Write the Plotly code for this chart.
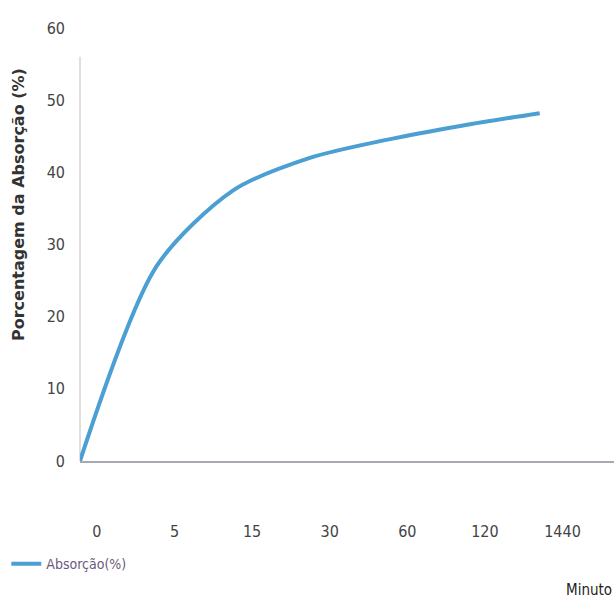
import plotly.graph_objects as go

# Absorption over time (minutes)
minutes = ["0", "5", "15", "30", "60", "120", "1440"]
absorcao = [0, 27, 37.5, 42, 44.5, 46.5, 48.2]
y_ticks = [0, 10, 20, 30, 40, 50, 60]

positions = list(range(len(minutes)))
label_positions = [p * 1.013 + 0.22 for p in positions]

narrow = "DejaVu Sans Condensed, Liberation Sans Narrow, sans-serif"
tick_font = dict(family=narrow, size=16, color="#444")

fig = go.Figure()
fig.add_trace(go.Scatter(
    x=positions, y=absorcao, mode="lines", name="Absorção(%)",
    line=dict(color="#4b9fd2", width=4, shape="spline", smoothing=0.8),
))

fig.update_layout(
    width=614, height=602,
    margin=dict(l=80, r=0, t=28, b=141),
    plot_bgcolor="white", paper_bgcolor="white",
    showlegend=True,
    legend=dict(orientation="h", x=-0.138, y=-0.238, xanchor="left", yanchor="middle",
                font=dict(family=narrow, size=14, color="#6a5a7a"),
                itemwidth=30, bgcolor="rgba(0,0,0,0)"),
    xaxis=dict(range=[0, 6.97], tickvals=label_positions, ticktext=minutes,
               showgrid=False, zeroline=False, showline=True, linecolor="#a8a8b0", linewidth=1.5,
               ticks="", tickfont=tick_font, ticklabelstandoff=55, fixedrange=True),
    yaxis=dict(range=[0, 60], tickvals=y_ticks, showgrid=False, zeroline=False,
               showline=False, ticks="", tickfont=tick_font, ticklabelstandoff=14),
    shapes=[dict(type="line", xref="paper", yref="y", x0=0, x1=0, y0=0, y1=56,
                 line=dict(color="#d4d4d8", width=1.5), layer="below")],
    annotations=[
        dict(text="<b>Porcentagem da Absorção (%)</b>", textangle=-90,
             xref="paper", yref="paper", x=(18 - 80) / 534, y=(461 - 205) / 433,
             xanchor="center", yanchor="middle", showarrow=False,
             font=dict(family="DejaVu Sans, sans-serif", size=16, color="#333")),
        dict(text="Minuto", xref="paper", yref="paper", x=1.0, y=(461 - 590) / 433,
             xanchor="right", yanchor="middle", showarrow=False,
             font=dict(family=narrow, size=15, color="#222")),
    ],
)

fig.write_html("out.html")
